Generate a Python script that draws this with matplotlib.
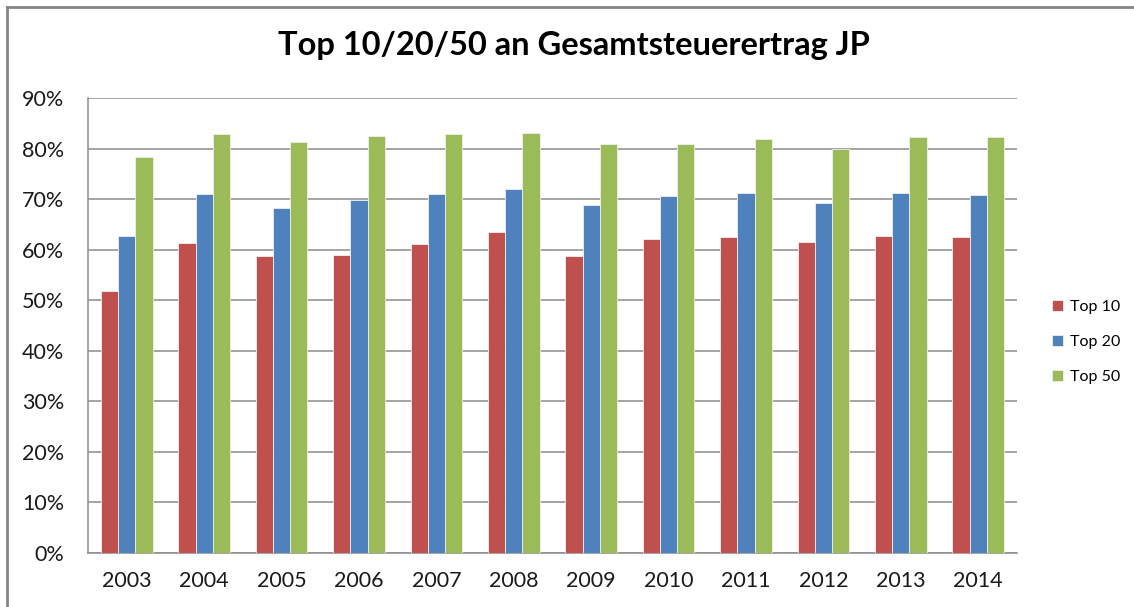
import matplotlib.pyplot as plt
import numpy as np
from matplotlib.lines import Line2D
from matplotlib.ticker import PercentFormatter

plt.rcParams['font.family'] = ['Lato', 'DejaVu Sans']

years = ['2003', '2004', '2005', '2006', '2007', '2008', '2009', '2010', '2011', '2012', '2013', '2014']
top10 = [51.9, 61.4, 58.8, 59.0, 61.1, 63.4, 58.8, 62.1, 62.6, 61.6, 62.8, 62.6]
top20 = [62.8, 71.1, 68.3, 69.8, 71.1, 72.0, 68.8, 70.7, 71.3, 69.2, 71.3, 70.9]
top50 = [78.3, 82.9, 81.3, 82.4, 82.9, 83.1, 81.0, 81.0, 81.8, 79.9, 82.2, 82.2]
series_names = ['Top 10', 'Top 20', 'Top 50']
colors = ['#C0504D', '#4F81BD', '#9BBB59']

fig = plt.figure(figsize=(11.34, 6.07), dpi=100)
ax = fig.add_axes([88 / 1134, 1 - 553 / 607, (1017 - 88) / 1134, (553 - 98) / 607])

x = np.arange(len(years))
w = 1 / 4.5
for i, (vals, name, c) in enumerate(zip([top10, top20, top50], series_names, colors)):
    ax.bar(x + (i - 1) * w, vals, width=w, color=c, label=name,
           edgecolor='#f0f0f0', linewidth=0.6, zorder=3)

ax.set_xlim(-0.5, len(years) - 0.5)
ax.set_ylim(0, 90)
ax.set_yticks(range(0, 91, 10))
ax.yaxis.set_major_formatter(PercentFormatter(decimals=0))
ax.set_xticks(x)
ax.set_xticklabels(years)
ax.grid(axis='y', color='#8c8c8c', linewidth=1.1, zorder=0)
for s in ['top', 'right']:
    ax.spines[s].set_visible(False)
for s in ['left', 'bottom']:
    ax.spines[s].set_color('#8c8c8c')
    ax.spines[s].set_linewidth(1.1)
ax.tick_params(axis='both', length=0, labelsize=15.5, colors='#1a1a1a')
ax.tick_params(axis='x', pad=13)
ax.tick_params(axis='y', pad=17)

fig.text(574 / 1134, 1 - 45 / 607, 'Top 10/20/50 an Gesamtsteuerertrag JP',
         ha='center', va='center', fontsize=23.5, fontweight='bold')

ax.legend(loc='center left', bbox_to_anchor=(1.022, 0.464), frameon=False,
          fontsize=11.5, handlelength=0.7, handleheight=0.7, labelspacing=1.3,
          handletextpad=0.45)

fig.add_artist(Line2D([7 / 1134, 1], [1 - 7 / 607, 1 - 7 / 607], color='#868686', linewidth=2,
                      transform=fig.transFigure))
fig.add_artist(Line2D([7 / 1134, 7 / 1134], [0, 1 - 7 / 607], color='#868686', linewidth=2,
                      transform=fig.transFigure))

fig.savefig('out.png', dpi=100)
